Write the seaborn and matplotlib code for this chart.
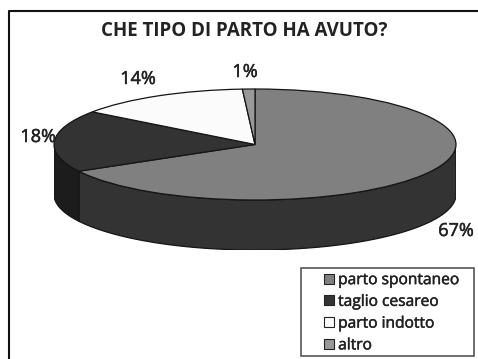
import numpy as np
import pandas as pd
import seaborn as sns
import matplotlib
matplotlib.use("Agg")
import matplotlib.pyplot as plt
import matplotlib.patheffects as pe
from matplotlib.lines import Line2D
from matplotlib.patches import Rectangle, Patch

categories = ["parto spontaneo", "taglio cesareo", "parto indotto", "altro"]
shares = [67, 18, 14, 1]
percent_labels = ["67%", "18%", "14%", "1%"]
top_colors = ["#808080", "#333333", "#fbfbfb", "#999999"]
wall_colors = ["#333333", "#1c1c1c", "#e0e0e0", "#777777"]
title_text = "CHE TIPO DI PARTO HA AVUTO?"

sns.set_theme(style="white")
plt.rcParams["font.family"] = ["Open Sans", "DejaVu Sans"]

W, H = 478, 359
table = pd.DataFrame({"category": categories, "share": shares})
fig = plt.figure(figsize=(W / 100, H / 100), dpi=100, facecolor="white")
semi_bold = [pe.withStroke(linewidth=0.35, foreground="#222222")]


def axes_box(left, top, right, bottom):
    return [left / W, 1 - bottom / H, (right - left) / W, (bottom - top) / H]


# the chart frame is only visible along its top and left sides
fig.add_artist(Line2D([8.5 / W, 8.5 / W, 1], [0, 1 - 10.5 / H, 1 - 10.5 / H],
                      transform=fig.transFigure, color="#111111", linewidth=1.5))

# the pie disc spans x 54-456, its upper face y 89-200, the wall adds 50 px below
RY = 55.5
DEPTH = 50 / RY
ax = fig.add_axes(axes_box(54, 89, 456, 250))
wedges, _ = ax.pie(table["share"], colors=top_colors, startangle=90, counterclock=False,
                   wedgeprops={"edgecolor": "#151515", "linewidth": 0.9})
ax.set_aspect("auto")
ax.set_xlim(-1, 1)
ax.set_ylim(-1 - DEPTH, 1)

# extruded wall: only the part of each slice's rim that faces the viewer
edges = np.concatenate([[0], np.cumsum(table["share"]) / table["share"].sum()]) * 2 * np.pi
for i, color in enumerate(wall_colors):
    a0, a1 = edges[i], edges[i + 1]
    lo, hi = max(a0, np.pi / 2), min(a1, 3 * np.pi / 2)
    if lo >= hi:
        continue
    t = np.linspace(lo, hi, 200)
    x, y = np.sin(t), np.cos(t)
    xs = np.concatenate([x, x[::-1]])
    ys = np.concatenate([y, y[::-1] - DEPTH])
    ax.fill(xs, ys, facecolor=color, edgecolor="#151515", linewidth=0.9, zorder=0.5)

fig.text(244 / W, 1 - 31 / H, title_text, ha="center", va="center",
         fontsize=13.5, fontweight="bold", color="#222222")

label_positions = [(456, 231), (38, 137), (138, 79), (245, 72)]
for text, (px, py) in zip(percent_labels, label_positions):
    fig.text(px / W, 1 - py / H, text, ha="center", va="center", fontsize=13,
             color="#222222", path_effects=semi_bold)

# legend box sits in the lower right; its entries are indented from the box edge
fig.add_artist(Rectangle((300.5 / W, 1 - 356 / H), 173.5 / W, 88 / H, transform=fig.transFigure,
                         facecolor="white", edgecolor="#555555", linewidth=1.2))
handles = [Patch(facecolor=c, edgecolor="#222222", linewidth=0.8) for c in top_colors]
legend = fig.legend(handles, categories, loc="upper left",
                    bbox_to_anchor=(321 / W, 1 - 269 / H), frameon=False,
                    fontsize=11.2, labelcolor="#222222", handlelength=0.62, handleheight=0.62,
                    handletextpad=0.28, labelspacing=0.37, borderaxespad=0, borderpad=0.2)
for label in legend.get_texts():
    label.set_path_effects(semi_bold)

fig.savefig("out.png", dpi=100)
